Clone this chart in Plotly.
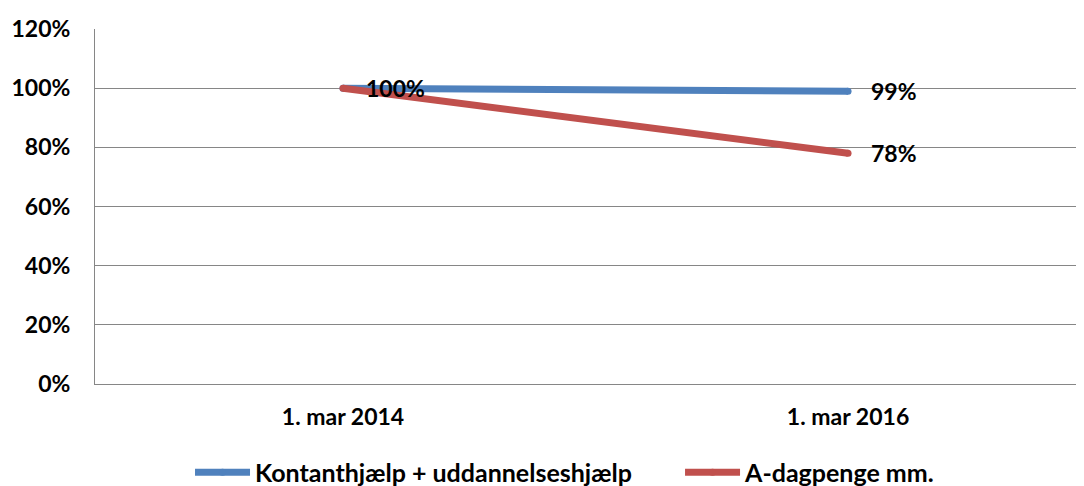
import plotly.graph_objects as go

categories = ["1. mar 2014", "1. mar 2016"]
series_names = ["Kontanthjælp + uddannelseshjælp", "A-dagpenge mm."]
kontant = [100, 99]
dagpenge = [100, 78]
kontant_labels = ["100%", "99%"]
dagpenge_labels = ["", "78%"]
y_ticks = [0, 20, 40, 60, 80, 100, 120]

FONT = dict(family="Lato, 'Liberation Sans', sans-serif", size=23, color="black", weight="bold")
LEG_FONT = dict(FONT, size=25)
colors = ["#4F81BD", "#C0504D"]
legend_ids = ["legend", "legend2"]

fig = go.Figure()
for name, vals, col, lg in zip(series_names, [kontant, dagpenge], colors, legend_ids):
    fig.add_trace(go.Scatter(x=categories, y=vals, mode="lines+markers", name=name,
                             line=dict(color=col, width=7), legend=lg,
                             marker=dict(color=col, size=7, line=dict(width=0))))

for vals, labels in [(kontant, kontant_labels), (dagpenge, dagpenge_labels)]:
    for c, v, t in zip(categories, vals, labels):
        if t:
            fig.add_annotation(x=c, y=v, text=t, showarrow=False, xanchor="left",
                               xshift=21, yanchor="middle", font=FONT)

leg_common = dict(orientation="h", xanchor="left", y=-0.249, yanchor="middle",
                  font=LEG_FONT, itemwidth=55, tracegroupgap=0, bgcolor="rgba(0,0,0,0)")
fig.update_layout(
    width=1084, height=486,
    margin=dict(l=87, r=0, t=21, b=110, autoexpand=False),
    paper_bgcolor="white", plot_bgcolor="white",
    font=FONT,
    showlegend=True,
    legend=dict(leg_common, x=0.0953),
    legend2=dict(leg_common, x=0.5868),
)
fig.update_xaxes(type="category", range=[-0.491, 1.483], showgrid=False,
                 showline=True, linecolor="#868686", linewidth=1, automargin=False,
                 ticks="", ticklabelstandoff=12, tickfont=FONT)
fig.update_yaxes(range=[0, 120], tickvals=y_ticks, ticktext=[f"{v}%" for v in y_ticks],
                 showgrid=True, gridcolor="#868686", gridwidth=1, automargin=False,
                 showline=True, linecolor="#868686", linewidth=1, zeroline=False,
                 ticks="", ticklabelstandoff=19, tickfont=FONT)

fig.write_html("out.html")
